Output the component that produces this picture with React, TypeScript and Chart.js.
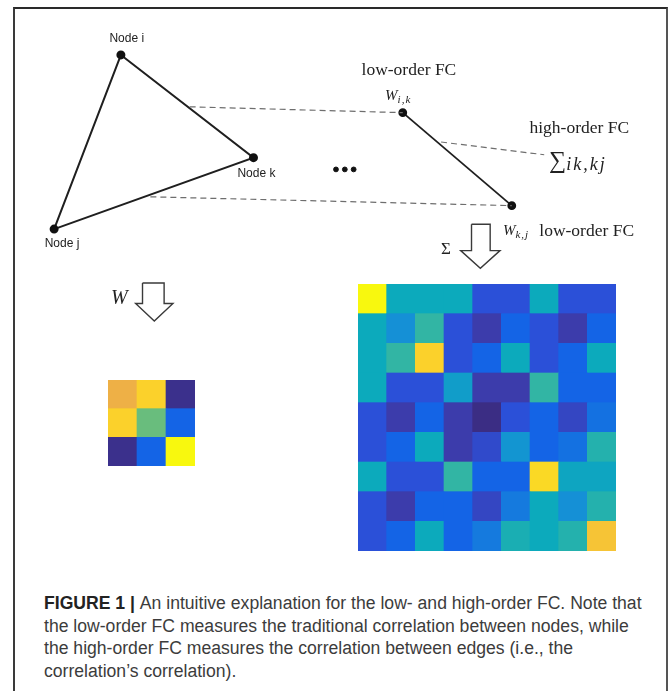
import React, { useEffect, useRef } from "react";
import { Chart, registerables } from "chart.js";

Chart.register(...registerables);

// ---------- diagram data ----------
const nodeNames = ["Node i", "Node k", "Node j"];
const nodeX = [117, 252, 49];
const nodeY = [50, 155, 228];

const edgeX = [404, 515];
const edgeY = [109, 204];

const dashedFromX = [187, 147, 443];
const dashedFromY = [103, 195, 139];
const dashedToX = [404, 515, 548];
const dashedToY = [109, 204, 152];

const ellipsisX = [336, 345, 354];
const ellipsisY = [167, 167, 167];

// hollow arrows: W (node FC) and Σ (edge FC)
const arrowShaftL = [139, 474];
const arrowShaftR = [161, 493];
const arrowHeadL = [132, 463];
const arrowHeadR = [170, 503];
const arrowTop = [283, 223];
const arrowWing = [304, 250];
const arrowTip = [322, 268];

// low-order FC (3 x 3) and high-order FC (9 x 9) matrices, values in [0,1]
const lowOrderFC = [
  [0.8, 0.9, 0.02],
  [0.9, 0.67, 0.3],
  [0.02, 0.3, 1.0],
];
const highOrderFC = [
  [1.0, 0.5, 0.5, 0.5, 0.2, 0.2, 0.5, 0.2, 0.2],
  [0.5, 0.4, 0.58, 0.2, 0.1, 0.3, 0.2, 0.1, 0.3],
  [0.5, 0.58, 0.9, 0.2, 0.3, 0.5, 0.2, 0.3, 0.5],
  [0.5, 0.2, 0.2, 0.45, 0.1, 0.1, 0.58, 0.3, 0.3],
  [0.2, 0.1, 0.3, 0.1, 0.0, 0.2, 0.3, 0.15, 0.33],
  [0.2, 0.3, 0.5, 0.1, 0.17, 0.42, 0.3, 0.33, 0.55],
  [0.5, 0.2, 0.2, 0.58, 0.3, 0.3, 0.92, 0.48, 0.48],
  [0.2, 0.1, 0.3, 0.3, 0.15, 0.35, 0.5, 0.4, 0.55],
  [0.2, 0.3, 0.5, 0.3, 0.35, 0.53, 0.5, 0.55, 0.86],
];

// parula-like colormap stops
const cmapStops = [0, 0.1, 0.2, 0.3, 0.4, 0.5, 0.6, 0.7, 0.8, 0.9, 1.0];
const cmapColors = [
  "#3b2d84", "#3c3cab", "#2b50d8", "#1464e6", "#1590d6", "#0caabc",
  "#3bb89e", "#7dbf6f", "#eeb046", "#fbd12b", "#f8f80e",
];

const captionLines = [
  "An intuitive explanation for the low- and high-order FC. Note that",
  "the low-order FC measures the traditional correlation between nodes, while",
  "the high-order FC measures the correlation between edges (i.e., the",
  "correlation\u2019s correlation).",
];

// ---------- helpers ----------
function hexToRgb(h: string) {
  const n = parseInt(h.slice(1), 16);
  return [(n >> 16) & 255, (n >> 8) & 255, n & 255];
}
function colormap(v: number) {
  const t = Math.max(0, Math.min(1, v));
  let i = 0;
  while (i < cmapStops.length - 2 && t > cmapStops[i + 1]) i++;
  const f = (t - cmapStops[i]) / (cmapStops[i + 1] - cmapStops[i]);
  const a = hexToRgb(cmapColors[i]);
  const b = hexToRgb(cmapColors[i + 1]);
  const c = a.map((x, k) => Math.round(x + (b[k] - x) * f));
  return `rgb(${c[0]},${c[1]},${c[2]})`;
}

const SERIF = '"Liberation Serif", "Times New Roman", serif';
const SANS = '"Liberation Sans", Arial, sans-serif';

const labelOffsetX = [6, 3, 8];
const labelOffsetY = [-17, 16, 15];

type Part = { text: string; font: string; dy?: number; spacing?: string };
const richLabels: { x: number; y: number; parts: Part[] }[] = [
  { x: 362, y: 71, parts: [{ text: "low-order FC", font: `17.5px ${SERIF}` }] },
  { x: 533, y: 130, parts: [{ text: "high-order FC", font: `17.5px ${SERIF}` }] },
  { x: 543, y: 235, parts: [{ text: "low-order FC", font: `17.5px ${SERIF}` }] },
  {
    x: 386, y: 96,
    parts: [
      { text: "W", font: `italic 15px ${SERIF}` },
      { text: "i,k", font: `italic 11px ${SERIF}`, dy: 3, spacing: "1px" },
    ],
  },
  {
    x: 506, y: 234,
    parts: [
      { text: "W", font: `italic 15px ${SERIF}` },
      { text: "k,j", font: `italic 11px ${SERIF}`, dy: 3, spacing: "1px" },
    ],
  },
  {
    x: 553, y: 166,
    parts: [
      { text: "\u2211", font: `24px ${SERIF}` },
      { text: "ik,kj", font: `italic 18px ${SERIF}`, dy: 2, spacing: "2px" },
    ],
  },
  { x: 443, y: 253, parts: [{ text: "\u03A3", font: `17px ${SERIF}` }] },
  { x: 107, y: 305, parts: [{ text: "W", font: `italic 20px ${SERIF}` }] },
];

const textPlugin = {
  id: "diagramText",
  afterDatasetsDraw(chart: any) {
    const { ctx, scales } = chart;
    const sx = scales.x;
    const sy = scales.y;
    ctx.save();
    ctx.fillStyle = "#222";
    ctx.font = `12px ${SANS}`;
    ctx.textAlign = "center";
    ctx.textBaseline = "middle";
    nodeNames.forEach((n, i) => {
      ctx.fillText(
        n,
        sx.getPixelForValue(nodeX[i] + labelOffsetX[i]),
        sy.getPixelForValue(nodeY[i] + labelOffsetY[i])
      );
    });
    ctx.textAlign = "left";
    ctx.textBaseline = "alphabetic";
    richLabels.forEach((item) => {
      let px = sx.getPixelForValue(item.x);
      const py = sy.getPixelForValue(item.y);
      item.parts.forEach((p) => {
        ctx.font = p.font;
        (ctx as any).letterSpacing = p.spacing || "0px";
        ctx.fillText(p.text, px, py + (p.dy || 0));
        px += ctx.measureText(p.text).width;
      });
      (ctx as any).letterSpacing = "0px";
    });
    ctx.restore();
  },
};

function pts(xs: number[], ys: number[]) {
  return xs.map((x, i) => ({ x, y: ys[i] }));
}

function arrowPolygon(k: number) {
  const mid = (arrowHeadL[k] + arrowHeadR[k]) / 2;
  return [
    { x: arrowShaftL[k], y: arrowTop[k] },
    { x: arrowShaftL[k], y: arrowWing[k] },
    { x: arrowHeadL[k], y: arrowWing[k] },
    { x: mid, y: arrowTip[k] },
    { x: arrowHeadR[k], y: arrowWing[k] },
    { x: arrowShaftR[k], y: arrowWing[k] },
    { x: arrowShaftR[k], y: arrowTop[k] },
    { x: arrowShaftL[k], y: arrowTop[k] },
  ];
}

function diagramConfig(): any {
  const dashed = dashedFromX.map((_, i) => ({
    data: [
      { x: dashedFromX[i], y: dashedFromY[i] },
      { x: dashedToX[i], y: dashedToY[i] },
    ],
    showLine: true,
    borderColor: "#6e6e6e",
    borderWidth: 1.2,
    borderDash: [6, 4],
    pointRadius: 0,
  }));
  const triangle = {
    data: [...pts(nodeX, nodeY), { x: nodeX[0], y: nodeY[0] }],
    showLine: true,
    borderColor: "#1f1f1f",
    borderWidth: 2,
    pointRadius: [3.5, 3.5, 3.5, 0],
    pointBackgroundColor: "#111",
    pointBorderColor: "#111",
  };
  const edge = {
    data: pts(edgeX, edgeY),
    showLine: true,
    borderColor: "#1f1f1f",
    borderWidth: 1.8,
    pointRadius: 3.5,
    pointBackgroundColor: "#111",
    pointBorderColor: "#111",
  };
  const dots = {
    data: pts(ellipsisX, ellipsisY),
    showLine: false,
    pointRadius: 2.4,
    pointBackgroundColor: "#111",
    pointBorderColor: "#111",
  };
  const arrows = [0, 1].map((k) => ({
    data: arrowPolygon(k),
    showLine: true,
    borderColor: "#3a3a3a",
    borderWidth: 1.4,
    pointRadius: 0,
    fill: false,
  }));
  return {
    type: "scatter",
    data: { datasets: [...dashed, triangle, edge, dots, ...arrows] },
    options: {
      animation: false,
      responsive: false,
      events: [],
      layout: { padding: 0 },
      plugins: { legend: { display: false }, tooltip: { enabled: false } },
      scales: {
        x: { type: "linear", min: 0, max: 670, display: false },
        y: { type: "linear", min: 0, max: 560, reverse: true, display: false },
      },
    },
    plugins: [textPlugin],
  };
}

function heatmapConfig(matrix: number[][]): any {
  const n = matrix.length;
  const labels = matrix[0].map((_, c) => `c${c + 1}`);
  const datasets = matrix
    .map((row, r) => ({
      label: `r${r + 1}`,
      data: row.map(() => 1),
      backgroundColor: row.map((v) => colormap(v)),
      borderWidth: 0,
      barPercentage: 1,
      categoryPercentage: 1,
    }))
    .reverse();
  return {
    type: "bar",
    data: { labels, datasets },
    options: {
      animation: false,
      responsive: false,
      events: [],
      layout: { padding: 0 },
      plugins: { legend: { display: false }, tooltip: { enabled: false } },
      scales: {
        x: { stacked: true, display: false },
        y: { stacked: true, display: false, min: 0, max: n },
      },
    },
  };
}

function ChartCanvas({ config, left, top, width, height }: any) {
  const ref = useRef<HTMLCanvasElement | null>(null);
  useEffect(() => {
    if (!ref.current) return;
    const chart = new Chart(ref.current, config());
    return () => chart.destroy();
  }, []);
  return (
    <canvas
      ref={ref}
      width={width}
      height={height}
      style={{ position: "absolute", left, top, width, height }}
    />
  );
}

export default function App() {
  useEffect(() => {
    document.body.style.margin = "0";
  }, []);
  return (
    <div style={{ position: "relative", width: 670, height: 691, overflow: "hidden", background: "#fff" }}>
      <div
        style={{
          position: "absolute",
          left: 13,
          top: 7,
          width: 655,
          height: 720,
          boxSizing: "border-box",
          borderTop: "2px solid #2a2a2a",
          borderLeft: "2px solid #3a3a3a",
          borderRight: "2px solid #555",
        }}
      />
      <ChartCanvas config={diagramConfig} left={0} top={0} width={670} height={560} />
      <ChartCanvas config={() => heatmapConfig(highOrderFC)} left={358} top={284} width={258} height={267} />
      <ChartCanvas config={() => heatmapConfig(lowOrderFC)} left={108} top={380} width={87} height={86} />
      <div
        style={{
          position: "absolute",
          left: 44,
          top: 592,
          fontFamily: SANS,
          fontSize: 17.6,
          lineHeight: "22.5px",
          color: "#3c3c3c",
          whiteSpace: "nowrap",
        }}
      >
        {captionLines.map((line, i) => (
          <div key={i}>
            {i === 0 ? <b style={{ color: "#222" }}>FIGURE 1 | </b> : null}
            {line}
          </div>
        ))}
      </div>
    </div>
  );
}
